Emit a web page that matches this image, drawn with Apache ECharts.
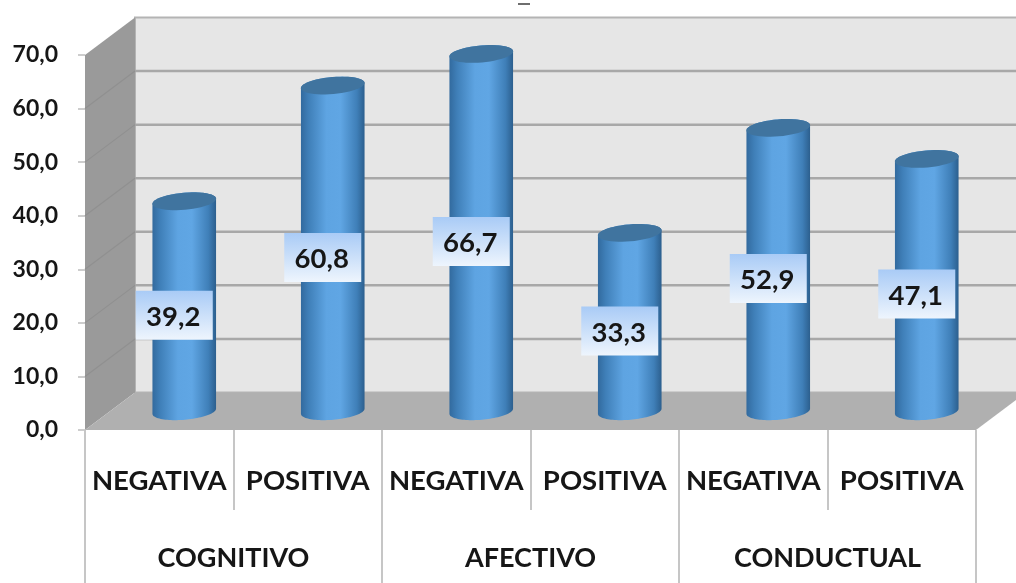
<!DOCTYPE html>
<html>
<head>
<meta charset="utf-8">
<style>html,body{margin:0;padding:0;background:#fff}#c{width:1016px;height:583px}</style>
<script src="https://cdn.jsdelivr.net/npm/echarts@6/dist/echarts.min.js"></script>
</head>
<body>
<div id="c"></div>
<script>
const categories = ['NEGATIVA', 'POSITIVA', 'NEGATIVA', 'POSITIVA', 'NEGATIVA', 'POSITIVA'];
const groups = ['COGNITIVO', 'AFECTIVO', 'CONDUCTUAL'];
const values = [39.2, 60.8, 66.7, 33.3, 52.9, 47.1];
const yMax = 70;
const yStep = 10;

const FONT = 'Lato, "Open Sans", sans-serif';
// Oblique depth of the box: back plane relative to the front plane, in pixels.
const DEPTH_X = 50;
const DEPTH_Y = -37.5;
const TILT = -5 * Math.PI / 180;

const comma = v => v.toFixed(1).replace('.', ',');

function ellipsePoints(cx, cy, rx, ry, from, to) {
  const pts = [];
  const n = 48;
  for (let i = 0; i <= n; i++) {
    const t = from + (to - from) * i / n;
    const x = rx * Math.cos(t), y = ry * Math.sin(t);
    pts.push([cx + x * Math.cos(TILT) - y * Math.sin(TILT),
              cy + x * Math.sin(TILT) + y * Math.cos(TILT)]);
  }
  return pts;
}

// Back wall, side wall, floor and their gridlines.
function renderBox(params, api) {
  const half = api.size([1, 0])[0] / 2;
  const x0 = api.coord([0, 0])[0] - half;
  const x1 = api.coord([categories.length - 1, 0])[0] + half;
  const y0 = api.coord([0, 0])[1];
  const yT = api.coord([0, yMax])[1];
  const bx = DEPTH_X, by = DEPTH_Y;
  const kids = [
    { type: 'rect', shape: { x: x0 + bx, y: yT + by, width: x1 - x0, height: y0 - yT },
      style: { fill: '#e6e6e6', stroke: '#b4b4b4', lineWidth: 2 } },
    { type: 'polygon', shape: { points: [[x0, y0], [x0, yT], [x0 + bx, yT + by], [x0 + bx, y0 + by]] },
      style: { fill: '#9a9a9a' } },
    { type: 'polygon', shape: { points: [[x0, y0], [x0 + bx, y0 + by], [x1 + bx, y0 + by], [x1, y0]] },
      style: { fill: '#b0b0b0' } }
  ];
  for (let v = yStep; v < yMax; v += yStep) {
    const y = api.coord([0, v])[1];
    kids.push({ type: 'line', shape: { x1: x0 + bx, y1: y + by, x2: x1 + bx, y2: y + by },
      style: { stroke: '#a8a8a8', lineWidth: 2.5 } });
    kids.push({ type: 'line', shape: { x1: x0, y1: y, x2: x0 + bx, y2: y + by },
      style: { stroke: '#909090', lineWidth: 1.2 } });
  }
  return { type: 'group', children: kids };
}

// A cylinder standing on the mid-depth of the floor, plus its value plate.
function renderCylinder(params, api) {
  const idx = api.value(0), val = api.value(1);
  const base = api.coord([idx, 0]);
  const top = api.coord([idx, val]);
  const cx = base[0] + DEPTH_X / 2;
  const yB = base[1] + DEPTH_Y / 2;
  const yT = top[1] + DEPTH_Y / 2;
  const rx = api.size([1, 0])[0] * 0.215;
  const ry = 8.5;
  const front = ellipsePoints(cx, yB, rx, ry, 0, Math.PI);
  const backTop = ellipsePoints(cx, yT, rx, ry, Math.PI, 2 * Math.PI);
  const body = front.concat(backTop);
  const lx = cx - 10, ly = (yB + yT) / 2 + 9;
  const bodyFill = new echarts.graphic.LinearGradient(0, 0, 1, 0, [
    { offset: 0, color: '#326a9e' }, { offset: 0.12, color: '#3f7fb8' },
    { offset: 0.4, color: '#5ea4e2' }, { offset: 0.62, color: '#60a6e4' },
    { offset: 0.88, color: '#3f7fb8' }, { offset: 1, color: '#2c5f8e' }
  ]);
  const plateFill = new echarts.graphic.LinearGradient(0, 0, 0, 1, [
    { offset: 0, color: '#a9cbf6' }, { offset: 1, color: '#eef5fd' }
  ]);
  return {
    type: 'group',
    children: [
      { type: 'polygon', shape: { points: body }, style: { fill: bodyFill } },
      { type: 'polygon', shape: { points: ellipsePoints(cx, yT, rx, ry, 0, 2 * Math.PI) },
        style: { fill: '#40749f' } },
      { type: 'rect', shape: { x: lx - 38.5, y: ly - 24.5, width: 77, height: 49 },
        style: { fill: plateFill } },
      { type: 'text', x: lx - 1, y: ly + 2,
        style: { text: comma(val), font: 'bold 27.5px ' + FONT, fill: '#161616',
                 align: 'center', verticalAlign: 'middle' } }
    ]
  };
}

const labelStyle = { fontFamily: FONT, fontWeight: 'bold', color: '#161616' };

const chart = echarts.init(document.getElementById('c'), null, { renderer: 'canvas' });
chart.setOption({
  animation: false,
  backgroundColor: '#ffffff',
  grid: { left: 85, right: 40, top: 55, bottom: 153 },
  graphic: [
    { type: 'rect', shape: { x: 518, y: 3, width: 12, height: 2 }, style: { fill: '#6e6e6e' } }
  ],
  xAxis: [
    {
      type: 'category', data: categories, position: 'bottom',
      axisLine: { show: false },
      axisTick: { show: true, length: 80, lineStyle: { color: '#c6c6c6', width: 2 } },
      axisLabel: { ...labelStyle, interval: 0, margin: 37, fontSize: 27.5 }
    },
    {
      type: 'category', data: groups, position: 'bottom',
      axisLine: { show: false },
      axisTick: { show: true, length: 153, lineStyle: { color: '#c6c6c6', width: 2 } },
      axisLabel: { ...labelStyle, interval: 0, margin: 115, fontSize: 27 }
    }
  ],
  yAxis: {
    type: 'value', min: 0, max: yMax, interval: yStep,
    axisLine: { show: false },
    axisTick: { show: true, length: 7, lineStyle: { color: '#bdbdbd', width: 1.5 } },
    splitLine: { show: false },
    axisLabel: { ...labelStyle, margin: 27, fontSize: 23, padding: [7, 0, 0, 0], formatter: v => comma(v) }
  },
  series: [
    { type: 'custom', xAxisIndex: 0, renderItem: renderBox, data: [[0, 0]], silent: true, z: 1, clip: false },
    { type: 'custom', xAxisIndex: 0, renderItem: renderCylinder,
      data: values.map((v, i) => [i, v]), encode: { x: 0, y: 1 }, silent: true, z: 2, clip: false }
  ]
});
</script>
</body>
</html>
